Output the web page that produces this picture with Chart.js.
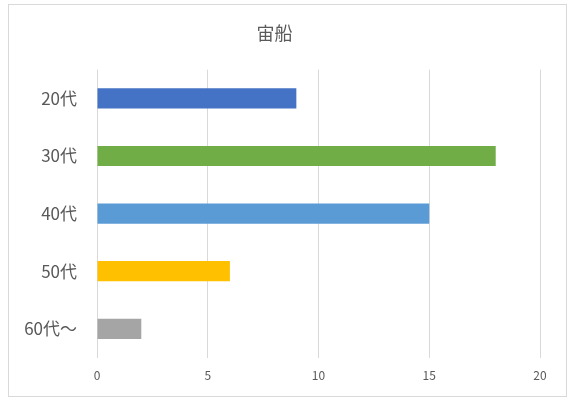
<!DOCTYPE html>
<html>
<head>
<meta charset="utf-8">
<script src="https://cdn.jsdelivr.net/npm/chart.js@4"></script>
<style>
  body { margin: 0; background: #fff; }
  .box {
    position: absolute; left: 8px; top: 4px;
    width: 557px; height: 391px;
    border: 1px solid #d9d9d9;
  }
</style>
</head>
<body>
<div class="box"><canvas id="myChart"></canvas></div>
<script>
const titleText = "宙船";
const ages = ["20代", "30代", "40代", "50代", "60代〜"];
const counts = [9, 18, 15, 6, 2];
const barColors = ["#4472C4", "#70AD47", "#5B9BD5", "#FFC000", "#A5A5A5"];

const fontName = '"Noto Sans CJK JP", "Noto Sans", sans-serif';
const grey = "#595959";

const ctx = document.getElementById('myChart').getContext('2d');

const chart = new Chart(ctx, {
    type: 'bar',
    data: {
        labels: ages,
        datasets: [{
            data: counts,
            backgroundColor: barColors,
            borderWidth: 0,
            barPercentage: 0.35,
            categoryPercentage: 1,
        }],
    },
    options: {
        indexAxis: 'y',
        responsive: true,
        maintainAspectRatio: false,
        animation: false,
        layout: {
            padding: { left: 0, right: 26, top: 0, bottom: 2 },
        },
        plugins: {
            legend: { display: false },
            tooltip: { enabled: false },
            title: {
                display: true,
                text: titleText,
                color: grey,
                font: { family: fontName, size: 18, weight: 'normal' },
                padding: { top: 17, bottom: 26 },
            },
        },
        scales: {
            x: {
                min: 0,
                max: 20,
                ticks: {
                    stepSize: 5,
                    color: grey,
                    padding: 11,
                    font: { family: fontName, size: 12 },
                },
                grid: { color: '#d9d9d9', drawTicks: false },
                border: { display: false },
            },
            y: {
                ticks: {
                    color: grey,
                    padding: 20,
                    font: { family: fontName, size: 17 },
                },
                grid: { display: false, drawTicks: false },
                border: { display: false },
                afterFit: function (scale) { scale.width = 88; },
            },
        },
    },
});
</script>
</body>
</html>
